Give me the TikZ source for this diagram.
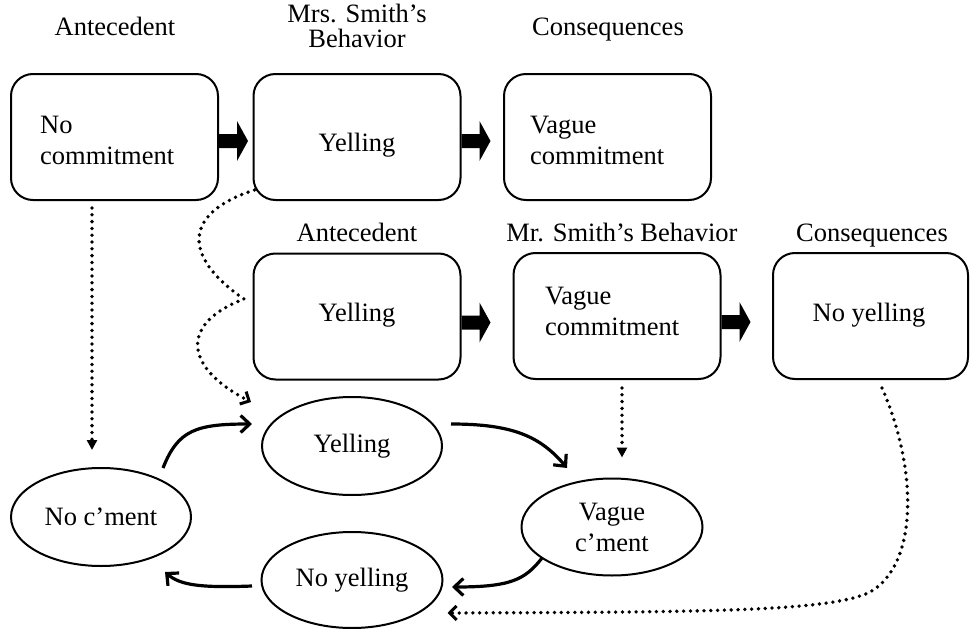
\documentclass[tikz,border=0pt]{standalone}
\usepackage{fontspec}
\setmainfont{Liberation Serif}
\usetikzlibrary{arrows.meta,calc,shapes.geometric}
\begin{document}
\begin{tikzpicture}[x=1pt,y=-1pt,
  every node/.style={font=\fontsize{26.5}{31}\selectfont},
  box/.style={draw,line width=2pt,rounded corners=22pt,minimum width=207pt,minimum height=126pt,inner sep=0pt},
  oval/.style={draw,ellipse,line width=2pt,minimum width=181pt,minimum height=98pt,inner sep=0pt,align=center},
  lbl/.style={inner sep=0pt,align=center,anchor=base},
  txt/.style={inner sep=0pt,align=left,anchor=base west},
  ctxt/.style={inner sep=0pt,anchor=base},
  bigarrow/.style={fill=black},
  solidarr/.style={line width=3.2pt,-{Straight Barb[length=9pt,width=17pt,line width=3.2pt]}},
  dotline/.style={line width=3.8pt,line cap=round,dash pattern=on 0pt off 6.8pt},
  dotarr/.style={dotline,-{Triangle[length=10pt,width=10pt]}},
  dotbarb/.style={dotline,-{Straight Barb[length=7pt,width=14pt,line width=3pt]}}
]
\useasboundingbox (0,0) rectangle (970,629);

% top row
\node[box] (b1) at (114.5,137) {};
\node[box] (b2) at (357,137) {};
\node[box] (b3) at (607.5,137) {};
\node[txt] (t1) at (40,164) {No\\commitment};
\node[ctxt] (t2) at (357,151) {Yelling};
\node[txt] (t3) at (530,164) {Vague\\commitment};
\node[lbl] (l1) at (115,35) {Antecedent};
\node[lbl,font=\fontsize{26.5}{25}\selectfont] (l2) at (357,47) {Mrs. Smith’s\\Behavior};
\node[lbl] (l3) at (608,35) {Consequences};

% second row
\node[box] (b4) at (357,316.5) {};
\node[box] (b5) at (617,316) {};
\node[box,minimum width=195pt] (b6) at (870.5,316) {};
\node[ctxt] (t4) at (357,321) {Yelling};
\node[txt] (t5) at (545,335) {Vague\\commitment};
\node[ctxt] (t6) at (869,321) {No yelling};
\node[lbl] (l4) at (357,241) {Antecedent};
\node[lbl] (l5) at (622,241) {Mr. Smith’s Behavior};
\node[lbl] (l6) at (872,241) {Consequences};

% big arrows
\foreach \b/\dy in {b1/4,b2/4,b4/6,b5/6}{
  \fill[bigarrow] ($(\b.east)+(0,\dy)$) ++(0,-7) -- ++(18,0) -- ++(0,-13) -- ++(11,20)
     -- ++(-11,20) -- ++(0,-13) -- ++(-18,0) -- cycle;
}

% ellipses
\node[oval,minimum width=180pt] (yl) at (352,446) {Yelling};
\node[oval,minimum width=180pt] (nc) at (101,517) {No c’ment};
\node[oval,minimum height=96pt] (ny) at (352,580) {No yelling};
\node[oval,minimum height=97pt] (vg) at (612,527) {Vague\\c’ment};

% solid cycle arrows
\draw[solidarr] ($(nc.center)+(62,-49)$) .. controls (178,430) and (196,424) .. ($(yl.center)+(-100,-22)$);
\draw[solidarr] ($(yl.center)+(99,-22)$) .. controls (512,424) and (540,436) .. ($(vg.center)+(-45,-59)$);
\draw[solidarr] ($(vg.center)+(-70,31)$) .. controls (525,580) and (510,587) .. ($(ny.center)+(100,7)$);
\draw[solidarr] ($(ny.center)+(-100,6)$) .. controls (200,588) and (180,585) .. ($(nc.center)+(64,55)$);

% dotted arrows
\draw[dotarr] ($(b1.south)+(-22.5,7)$) -- ($(nc.north)+(-9,-17)$);
\draw[dotarr] ($(b5.south)+(5,8)$) -- ($(vg.north)+(10,-20)$);
\draw[dotbarb] ($(b2.south west)+(2,-11)$) .. controls (185,212) and (180,255) .. (244,299)
   .. controls (183,322) and (180,365) .. ($(yl.center)+(-101,-44)$);
\draw[dotbarb] ($(b6.south)+(11.5,8)$) .. controls (918,470) and (918,565) .. (870,592)
   .. controls (830,612) and (700,612) .. ($(ny.east)+(4,33)$);
\end{tikzpicture}
\end{document}
